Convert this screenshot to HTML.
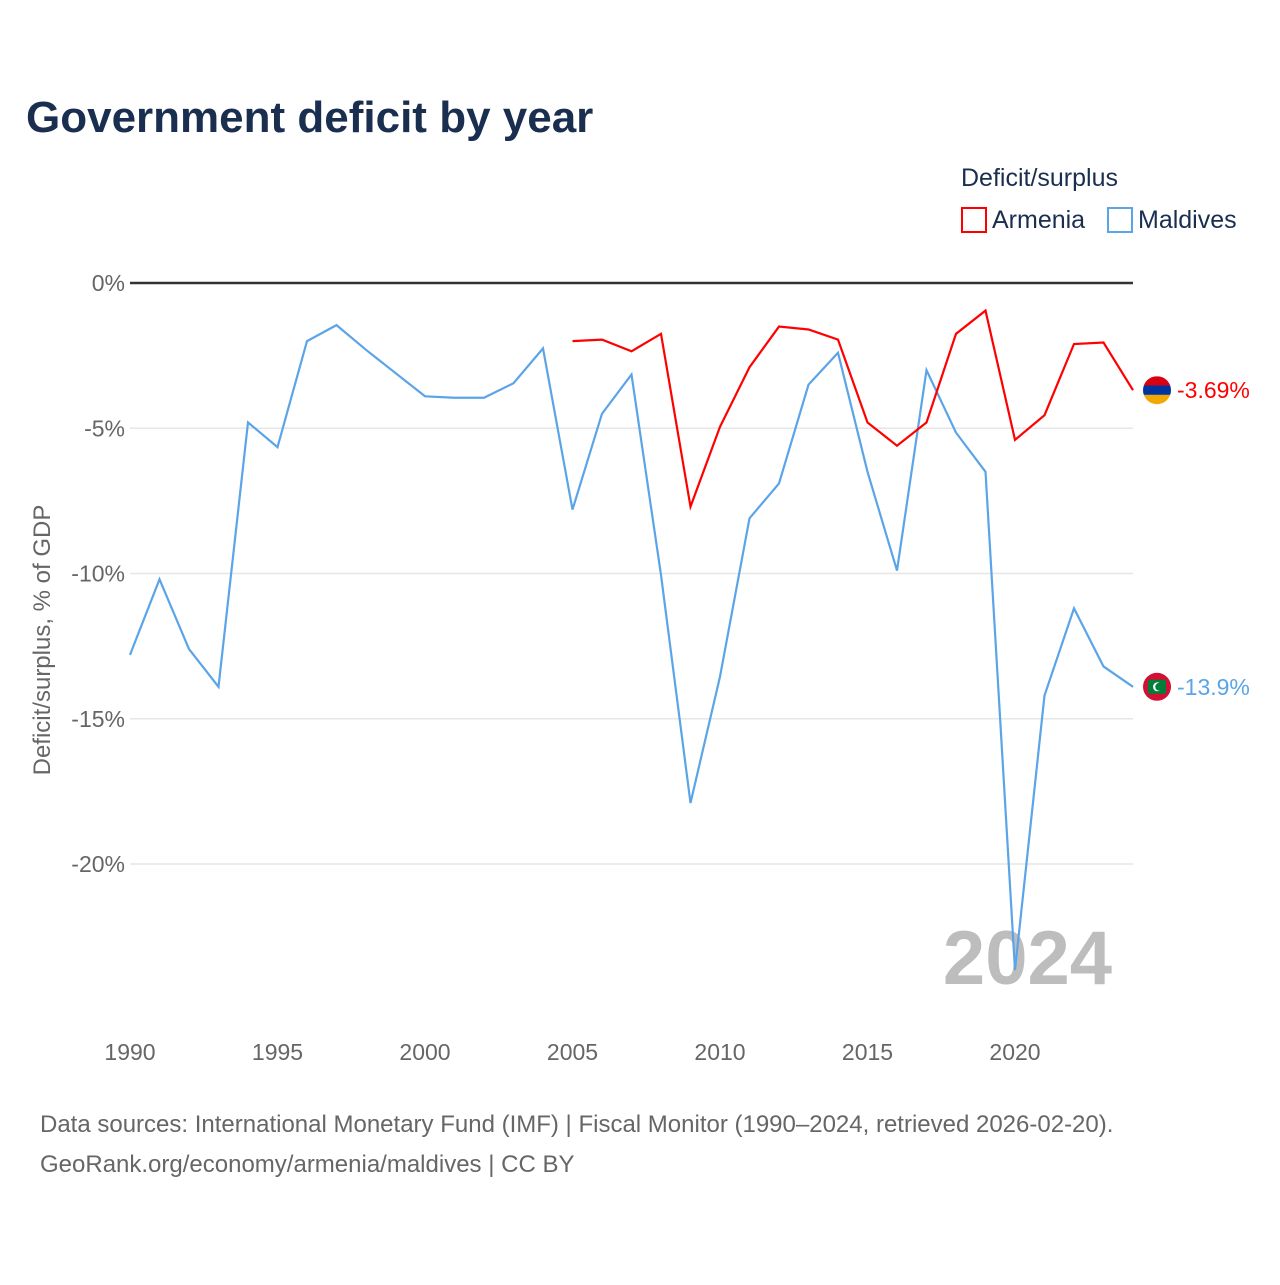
<!DOCTYPE html>
<html><head><meta charset="utf-8"><style>
body{margin:0;background:#fff;font-family:"Liberation Sans",sans-serif;}
svg text{font-family:"Liberation Sans",sans-serif;}
</style></head><body>
<svg id="chart" width="1280" height="1280" xmlns="http://www.w3.org/2000/svg">
<rect width="1280" height="1280" fill="#fff"/>
<text x="26" y="132" font-size="44" font-weight="bold" fill="#1a2e4f">Government deficit by year</text>
<text x="961" y="186" font-size="25" fill="#1a2e4f">Deficit/surplus</text>
<g><rect x="962" y="208" width="24" height="24" fill="none" stroke="#f00" stroke-width="2"/><text x="992" y="228" font-size="25" fill="#1a2e4f">Armenia</text></g>
<g><rect x="1108" y="208" width="24" height="24" fill="none" stroke="#5ba4e8" stroke-width="2"/><text x="1138" y="228" font-size="25" fill="#1a2e4f">Maldives</text></g>
<text transform="translate(50,640) rotate(-90)" text-anchor="middle" font-size="24" fill="#666">Deficit/surplus, % of GDP</text>
<defs><clipPath id="ca"><circle id="cac" r="14"/></clipPath></defs>
<text x="1112" y="984" text-anchor="end" font-size="76" font-weight="bold" fill="#bdbdbd">2024</text>
<g id="grid"></g><g id="series"></g>
<text x="40" y="1132" font-size="24" fill="#666">Data sources: International Monetary Fund (IMF) | Fiscal Monitor (1990–2024, retrieved 2026-02-20).</text>
<text x="40" y="1172" font-size="24" fill="#666">GeoRank.org/economy/armenia/maldives | CC BY</text>
</svg>
<script>
const years=[];for(let y=1990;y<=2024;y++)years.push(y);
const maldives=[-12.8,-10.2,-12.6,-13.9,-4.8,-5.65,-2.0,-1.45,-2.3,-3.1,-3.9,-3.95,-3.95,-3.45,-2.25,-7.8,-4.5,-3.15,-10.05,-17.9,-13.55,-8.1,-6.9,-3.5,-2.4,-6.5,-9.9,-3.0,-5.15,-6.5,-23.65,-14.2,-11.2,-13.2,-13.9];
const armeniaYears=[2005,2006,2007,2008,2009,2010,2011,2012,2013,2014,2015,2016,2017,2018,2019,2020,2021,2022,2023,2024];
const armenia=[-2.0,-1.95,-2.35,-1.75,-7.7,-4.95,-2.9,-1.5,-1.6,-1.95,-4.8,-5.6,-4.8,-1.75,-0.95,-5.4,-4.55,-2.1,-2.05,-3.69];
const yTicks=[0,-5,-10,-15,-20];
const yTickLabels=["0%","-5%","-10%","-15%","-20%"];
const xTicks=[1990,1995,2000,2005,2010,2015,2020];
const X=y=>130+(y-1990)*(1133-130)/34;
const Y=v=>283-v*29.05;
const NS="http://www.w3.org/2000/svg";
function mk(t,a,p){const e=document.createElementNS(NS,t);for(const k in a)e.setAttribute(k,a[k]);p.appendChild(e);return e;}
const g=document.getElementById('grid'),s=document.getElementById('series');
yTicks.forEach((v,i)=>{
 const l=mk('line',{x1:130,x2:1133,y1:Y(v),y2:Y(v),stroke:v===0?'#333':'#e6e6e6','stroke-width':v===0?2.5:1.5},g);
 
 
 const t=mk('text',{x:125,y:Y(v)+8,'text-anchor':'end','font-size':23,fill:'#666'},g);t.textContent=yTickLabels[i];
 
 
});
xTicks.forEach(y=>{const t=mk('text',{x:X(y),y:1060,'text-anchor':'middle','font-size':23,fill:'#666'},g);t.textContent=y;
 
 });
const pm=mk('polyline',{points:years.map((y,i)=>X(y)+','+Y(maldives[i])).join(' '),fill:'none',stroke:'#5ba4e8','stroke-width':2.2},s);


const pa=mk('polyline',{points:armeniaYears.map((y,i)=>X(y)+','+Y(armenia[i])).join(' '),fill:'none',stroke:'#f00','stroke-width':2.2},s);


const ay=Y(armenia[armenia.length-1]),my=Y(maldives[maldives.length-1]),fx=1157;
const cac=document.getElementById('cac');cac.setAttribute('cx',fx);cac.setAttribute('cy',ay);
const fa=mk('g',{'clip-path':'url(#ca)'},s);


mk('rect',{x:fx-14,y:ay-14,width:28,height:10,fill:'#d90012'},fa);
mk('rect',{x:fx-14,y:ay-4.7,width:28,height:9.4,fill:'#0033a0'},fa);
mk('rect',{x:fx-14,y:ay+4.7,width:28,height:10,fill:'#f2a800'},fa);
const fm=mk('g',{},s);


mk('circle',{cx:fx,cy:my,r:14,fill:'#d21034'},fm);
mk('rect',{x:fx-9,y:my-7,width:18,height:14,fill:'#007e3a'},fm);
mk('circle',{cx:fx+0.5,cy:my,r:4.5,fill:'#fff'},fm);
mk('circle',{cx:fx+2.3,cy:my,r:4,fill:'#007e3a'},fm);
const ta=mk('text',{x:1177,y:ay+8,'font-size':23,fill:'#f00'},s);ta.textContent='-3.69%';


const tm=mk('text',{x:1177,y:my+8,'font-size':23,fill:'#5ba4e8'},s);tm.textContent='-13.9%';


</script>
</body></html>
